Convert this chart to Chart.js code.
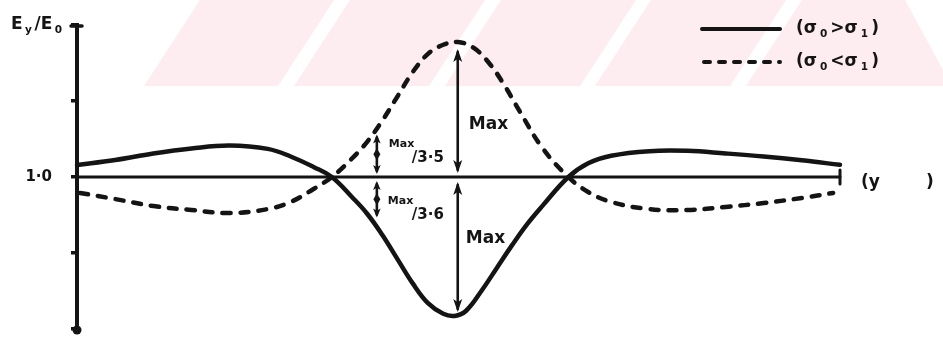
<!DOCTYPE html>
<html>
<head>
<meta charset="utf-8">
<script src="https://cdn.jsdelivr.net/npm/chart.js@4.4.1/dist/chart.umd.min.js"></script>
<style>
  html, body { margin: 0; padding: 0; background: #ffffff; }
  canvas { display: block; }
</style>
</head>
<body>
<canvas id="c" width="943" height="340"></canvas>
<script>
// Field ratio Ey/E0 along y (position in arbitrary units 0–100)
const solidX  = [0, 5, 10, 15, 20, 25, 28, 31, 33.4, 36, 38, 40, 42, 44, 46, 48, 49.5, 51, 53, 55, 57, 59, 61, 64.4, 67, 70, 75, 80, 85, 90, 95, 100];
const solidY  = [1.079, 1.112, 1.155, 1.188, 1.207, 1.185, 1.135, 1.066, 1.0, 0.87, 0.76, 0.62, 0.46, 0.30, 0.17, 0.10, 0.086, 0.12, 0.25, 0.40, 0.55, 0.69, 0.81, 1.0, 1.09, 1.14, 1.17, 1.172, 1.155, 1.135, 1.11, 1.08];

const dashedX = [0.4, 5, 10, 15, 20, 25, 28, 31, 33.4, 36, 38, 40, 42, 44, 46, 48, 49.9, 52, 54, 56, 58, 61, 64.4, 67, 70, 75, 80, 85, 90, 95, 99.1];
const dashedY = [0.895, 0.855, 0.809, 0.783, 0.763, 0.789, 0.836, 0.921, 1.0, 1.12, 1.23, 1.37, 1.53, 1.69, 1.81, 1.87, 1.888, 1.849, 1.75, 1.605, 1.434, 1.191, 1.0, 0.901, 0.836, 0.789, 0.783, 0.803, 0.829, 0.862, 0.895];

// Reference level and axis ticks
const baseX = [0, 100];
const baseLevel = 1.0;
const yTickValues = [0, 0.5, 1.0, 1.5, 2.0];
const yTickLabels = ['', '', '1·0', '', ''];

// Dimension markers: Max arrows at the peak, fractional arrows to the left
const maxArrowX = 49.9;
const fracArrowX = 39.3;
const fracDivisors = [3.5, 3.6];
const fracLabels = ['3·5', '3·6'];

const seriesNames = ['σ0>σ1', 'σ0<σ1'];

const toPoints = (xs, ys) => xs.map((x, i) => ({ x: x, y: ys[i] }));
const INK = '#141414';
const FONT = '"DejaVu Sans", "Liberation Sans", sans-serif';

// Draw a run of text where some parts are subscripts
function richText(ctx, x, y, parts, size, gap) {
  let cx = x;
  parts.forEach(([txt, sub]) => {
    const s = sub ? size * 0.62 : size;
    ctx.font = 'bold ' + s + 'px ' + FONT;
    ctx.fillText(txt, cx, sub ? y + size * 0.32 : y);
    cx += ctx.measureText(txt).width + gap;
  });
  return cx;
}

function arrowHead(ctx, x, tipY, dir, len, half) {
  ctx.beginPath();
  ctx.moveTo(x, tipY);
  ctx.lineTo(x - half, tipY - dir * len);
  ctx.lineTo(x, tipY - dir * len * 0.75);
  ctx.lineTo(x + half, tipY - dir * len);
  ctx.closePath();
  ctx.fill();
}

function doubleArrow(ctx, x, y1, y2, len, half, diamond) {
  // y1 top tip, y2 bottom tip
  ctx.beginPath();
  ctx.moveTo(x, y1 + 3);
  ctx.lineTo(x, y2 - 3);
  ctx.stroke();
  arrowHead(ctx, x, y1, -1, len, half);
  arrowHead(ctx, x, y2, 1, len, half);
  if (diamond) {
    const m = (y1 + y2) / 2;
    ctx.beginPath();
    ctx.moveTo(x, m - 6);
    ctx.lineTo(x + 3.5, m);
    ctx.lineTo(x, m + 6);
    ctx.lineTo(x - 3.5, m);
    ctx.closePath();
    ctx.fill();
  }
}

const backdrop = {
  id: 'backdrop',
  beforeDraw(chart) {
    const ctx = chart.ctx;
    ctx.save();
    ctx.fillStyle = '#ffffff';
    ctx.fillRect(0, 0, chart.width, chart.height);
    // faint diagonal band pattern across the top
    ctx.fillStyle = '#fdedf0';
    const bands = [[144, 278], [294, 429], [445, 580], [595, 730], [746, 900]];
    const h = 86, shift = 56;
    bands.forEach(([a, b], i) => {
      ctx.beginPath();
      ctx.moveTo(a, h);
      ctx.lineTo(a + shift, 0);
      if (i === bands.length - 1) {
        ctx.lineTo(905, 0);
        ctx.lineTo(943, 70);
        ctx.lineTo(943, h);
      } else {
        ctx.lineTo(b + shift, 0);
        ctx.lineTo(b, h);
      }
      ctx.closePath();
      ctx.fill();
    });
    ctx.restore();
  }
};

const annotations = {
  id: 'annotations',
  afterDatasetsDraw(chart) {
    const ctx = chart.ctx;
    const xs = chart.scales.x, ys = chart.scales.y;
    const area = chart.chartArea;
    ctx.save();
    ctx.fillStyle = INK;
    ctx.strokeStyle = INK;
    ctx.lineCap = 'round';

    // axis end caps
    const ax = area.left;
    ctx.lineWidth = 3.5;
    ctx.beginPath();
    ctx.moveTo(ax - 6, ys.getPixelForValue(2) + 1);
    ctx.lineTo(ax + 5, ys.getPixelForValue(2) + 1);
    ctx.stroke();
    ctx.beginPath();
    ctx.arc(ax, ys.getPixelForValue(0) + 1, 4.5, 0, Math.PI * 2);
    ctx.fill();
    // end bar of the reference line
    const ex = xs.getPixelForValue(baseX[1]);
    const by = ys.getPixelForValue(baseLevel);
    ctx.lineWidth = 3;
    ctx.beginPath();
    ctx.moveTo(ex, by - 7);
    ctx.lineTo(ex, by + 7);
    ctx.stroke();

    // axis title Ey/E0
    ctx.textBaseline = 'middle';
    ctx.textAlign = 'left';
    richText(ctx, 11, 25, [['E', false], ['y', true], ['/E', false], ['0', true]], 17, 2.5);

    // horizontal axis label
    ctx.font = 'bold 17px ' + FONT;
    ctx.fillText('(y', 861, by + 6);
    ctx.fillText(')', 926, by + 6);

    // Max arrows
    const peak = Math.max(...dashedY);
    const trough = Math.min(...solidY);
    const mx = xs.getPixelForValue(maxArrowX);
    ctx.lineWidth = 2.6;
    doubleArrow(ctx, mx, ys.getPixelForValue(peak) + 7, by - 4, 13, 4.5, false);
    doubleArrow(ctx, mx, by + 5, ys.getPixelForValue(trough) - 4, 13, 4.5, false);

    // fractional arrows
    const fx = xs.getPixelForValue(fracArrowX);
    const upFrac = baseLevel + (peak - baseLevel) / fracDivisors[0];
    const dnFrac = baseLevel - (baseLevel - trough) / fracDivisors[1];
    doubleArrow(ctx, fx, ys.getPixelForValue(upFrac) - 4, by - 3, 9, 3.8, true);
    doubleArrow(ctx, fx, by + 4, ys.getPixelForValue(dnFrac) + 2, 9, 3.8, true);

    // labels
    ctx.textAlign = 'left';
    ctx.font = 'bold 17px ' + FONT;
    ctx.fillText('Max', mx + 11, (ys.getPixelForValue(peak) + by) / 2 + 15);
    ctx.fillText('Max', mx + 8, (ys.getPixelForValue(trough) + by) / 2 - 8);

    ctx.font = 'bold 11px ' + FONT;
    ctx.fillText('Max', fx + 12, ys.getPixelForValue(upFrac) + 6);
    ctx.fillText('Max', fx + 11, by + 24);
    ctx.font = 'bold 15px ' + FONT;
    ctx.fillText('/' + fracLabels[0], fx + 35, ys.getPixelForValue(upFrac) + 20);
    ctx.fillText('/' + fracLabels[1], fx + 35, by + 38);

    // legend
    const lx0 = 702, lx1 = 780;
    const rows = [29, 62];
    ctx.lineWidth = 4;
    ctx.beginPath();
    ctx.moveTo(lx0, rows[0]);
    ctx.lineTo(lx1, rows[0]);
    ctx.stroke();
    ctx.setLineDash([6, 9]);
    ctx.beginPath();
    ctx.moveTo(lx0 + 2, rows[1]);
    ctx.lineTo(lx1, rows[1]);
    ctx.stroke();
    ctx.setLineDash([]);
    ctx.textBaseline = 'middle';
    const legendParts = [
      [['(σ', false], ['0', true], ['>σ', false], ['1', true], [')', false]],
      [['(σ', false], ['0', true], ['<σ', false], ['1', true], [')', false]]
    ];
    legendParts.forEach((parts, i) => richText(ctx, 796, rows[i], parts, 17, 3));

    ctx.restore();
  }
};

const lineStyle = {
  borderColor: INK,
  pointRadius: 0,
  fill: false,
  clip: false,
  borderCapStyle: 'round',
  borderJoinStyle: 'round',
  tension: 0.4
};

new Chart(document.getElementById('c'), {
  type: 'line',
  data: {
    datasets: [
      Object.assign({ label: seriesNames[0], data: toPoints(solidX, solidY), borderWidth: 4.5 }, lineStyle),
      Object.assign({ label: seriesNames[1], data: toPoints(dashedX, dashedY), borderWidth: 4.5, borderDash: [8, 10] }, lineStyle),
      Object.assign({ label: 'ref', data: toPoints(baseX, baseX.map(() => baseLevel)), borderWidth: 3 }, lineStyle)
    ]
  },
  options: {
    responsive: false,
    animation: false,
    devicePixelRatio: 1,
    layout: { padding: { left: 0, right: 103, top: 25, bottom: 11 } },
    plugins: { legend: { display: false }, tooltip: { enabled: false } },
    scales: {
      x: { type: 'linear', min: 0, max: 100, display: false },
      y: {
        type: 'linear', min: 0, max: 2,
        afterFit(scale) {
          scale.width = 77;
          scale.paddingTop = 0;
          scale.paddingBottom = 0;
        },
        afterBuildTicks(scale) { scale.ticks = yTickValues.map(v => ({ value: v })); },
        border: { display: true, color: INK, width: 4 },
        grid: { drawOnChartArea: false, drawTicks: true, tickLength: 6, color: INK, lineWidth: 3.5 },
        ticks: {
          autoSkip: false,
          padding: 19,
          color: INK,
          font: { family: 'DejaVu Sans', weight: 'bold', size: 15 },
          callback: (v) => yTickLabels[yTickValues.indexOf(v)]
        }
      }
    }
  },
  plugins: [backdrop, annotations]
});
</script>
</body>
</html>
